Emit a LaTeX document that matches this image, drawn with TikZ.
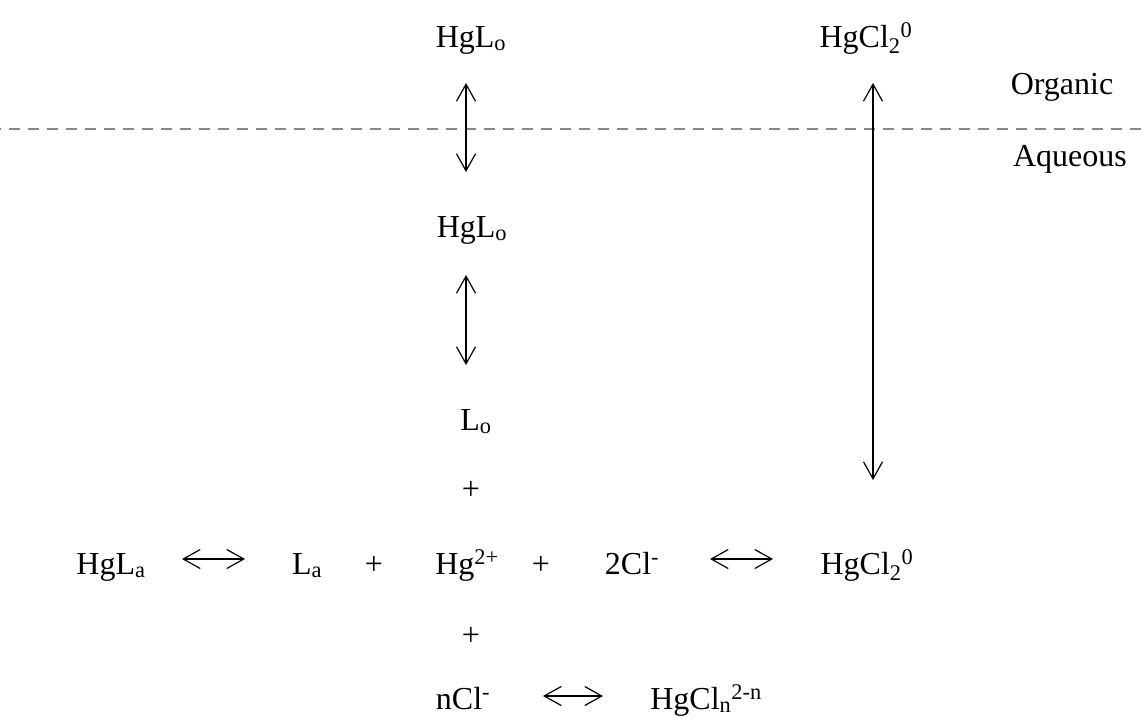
\documentclass[tikz,border=0pt]{standalone}
\usepackage{fontspec}
\setmainfont{Liberation Serif}
\usetikzlibrary{arrows.meta}
\tikzset{
  lbl/.style={inner sep=0pt, anchor=base, font=\fontsize{32}{38}\selectfont},
  varrow/.style={line width=1.2pt, {Straight Barb[length=17pt,width=19pt]}-{Straight Barb[length=17pt,width=19pt]}},
  harrow/.style={line width=1.8pt, {Straight Barb[length=17pt,width=19pt,line width=1.2pt]}-{Straight Barb[length=17pt,width=19pt,line width=1.2pt]}},
  phase/.style={line width=2.5pt, draw={rgb,255:red,136;green,136;blue,136}, dash pattern=on 11pt off 8pt, dash phase=-9pt}
}
\newcommand{\sbs}[1]{\textsubscript{#1}}
\newcommand{\sps}[1]{\textsuperscript{#1}}
\begin{document}
\begin{tikzpicture}[x=1pt,y=-1pt]
\useasboundingbox (0,0) rectangle (1146,721);
% phase boundary
\coordinate (bl) at (0,129);
\coordinate (br) at (1146,129);
\draw[phase] (bl) -- (br);
% labels
\node[lbl] (hgloTop) at (471,47) {HgL\sbs{o}};
\node[lbl] (hgcl2Top) at (866,47) {HgCl\sbs{2}\sps{0}};
\node[lbl] (organic) at (1062,94) {Organic};
\node[lbl] (aqueous) at (1070,166) {Aqueous};
\node[lbl] (hgloMid) at (472,237) {HgL\sbs{o}};
\node[lbl] (lo) at (476,430) {L\sbs{o}};
\node[lbl] (plus1) at (471,499) {+};
\node[lbl] (hgla) at (111,574) {HgL\sbs{a}};
\node[lbl] (la) at (307,574) {L\sbs{a}};
\node[lbl] (plus2) at (374,574) {+};
\node[lbl] (hg) at (467,574) {Hg\sps{2+}};
\node[lbl] (plus3) at (541,574) {+};
\node[lbl] (cl2) at (632,574) {2Cl\sps{-}};
\node[lbl] (hgcl2) at (867,574) {HgCl\sbs{2}\sps{0}};
\node[lbl] (plus4) at (471,645) {+};
\node[lbl] (ncl) at (463,709) {nCl\sps{-}};
\node[lbl] (hgcln) at (706,709) {HgCl\sbs{n}\sps{2-n}};
% arrow end points
\coordinate (a1t) at (466,83);
\coordinate (a1b) at (466,172);
\coordinate (a2t) at (466,275);
\coordinate (a2b) at (466,365);
\coordinate (a3t) at (873,83);
\coordinate (a3b) at (873,480);
\coordinate (h1l) at (182,559);
\coordinate (h1r) at (245,559);
\coordinate (h2l) at (710,559);
\coordinate (h2r) at (773,559);
\coordinate (h3l) at (543,696);
\coordinate (h3r) at (603,696);
\draw[varrow] (a1t) -- (a1b);
\draw[varrow] (a2t) -- (a2b);
\draw[varrow] (a3t) -- (a3b);
\draw[harrow] (h1l) -- (h1r);
\draw[harrow] (h2l) -- (h2r);
\draw[harrow] (h3l) -- (h3r);
\end{tikzpicture}
\end{document}
